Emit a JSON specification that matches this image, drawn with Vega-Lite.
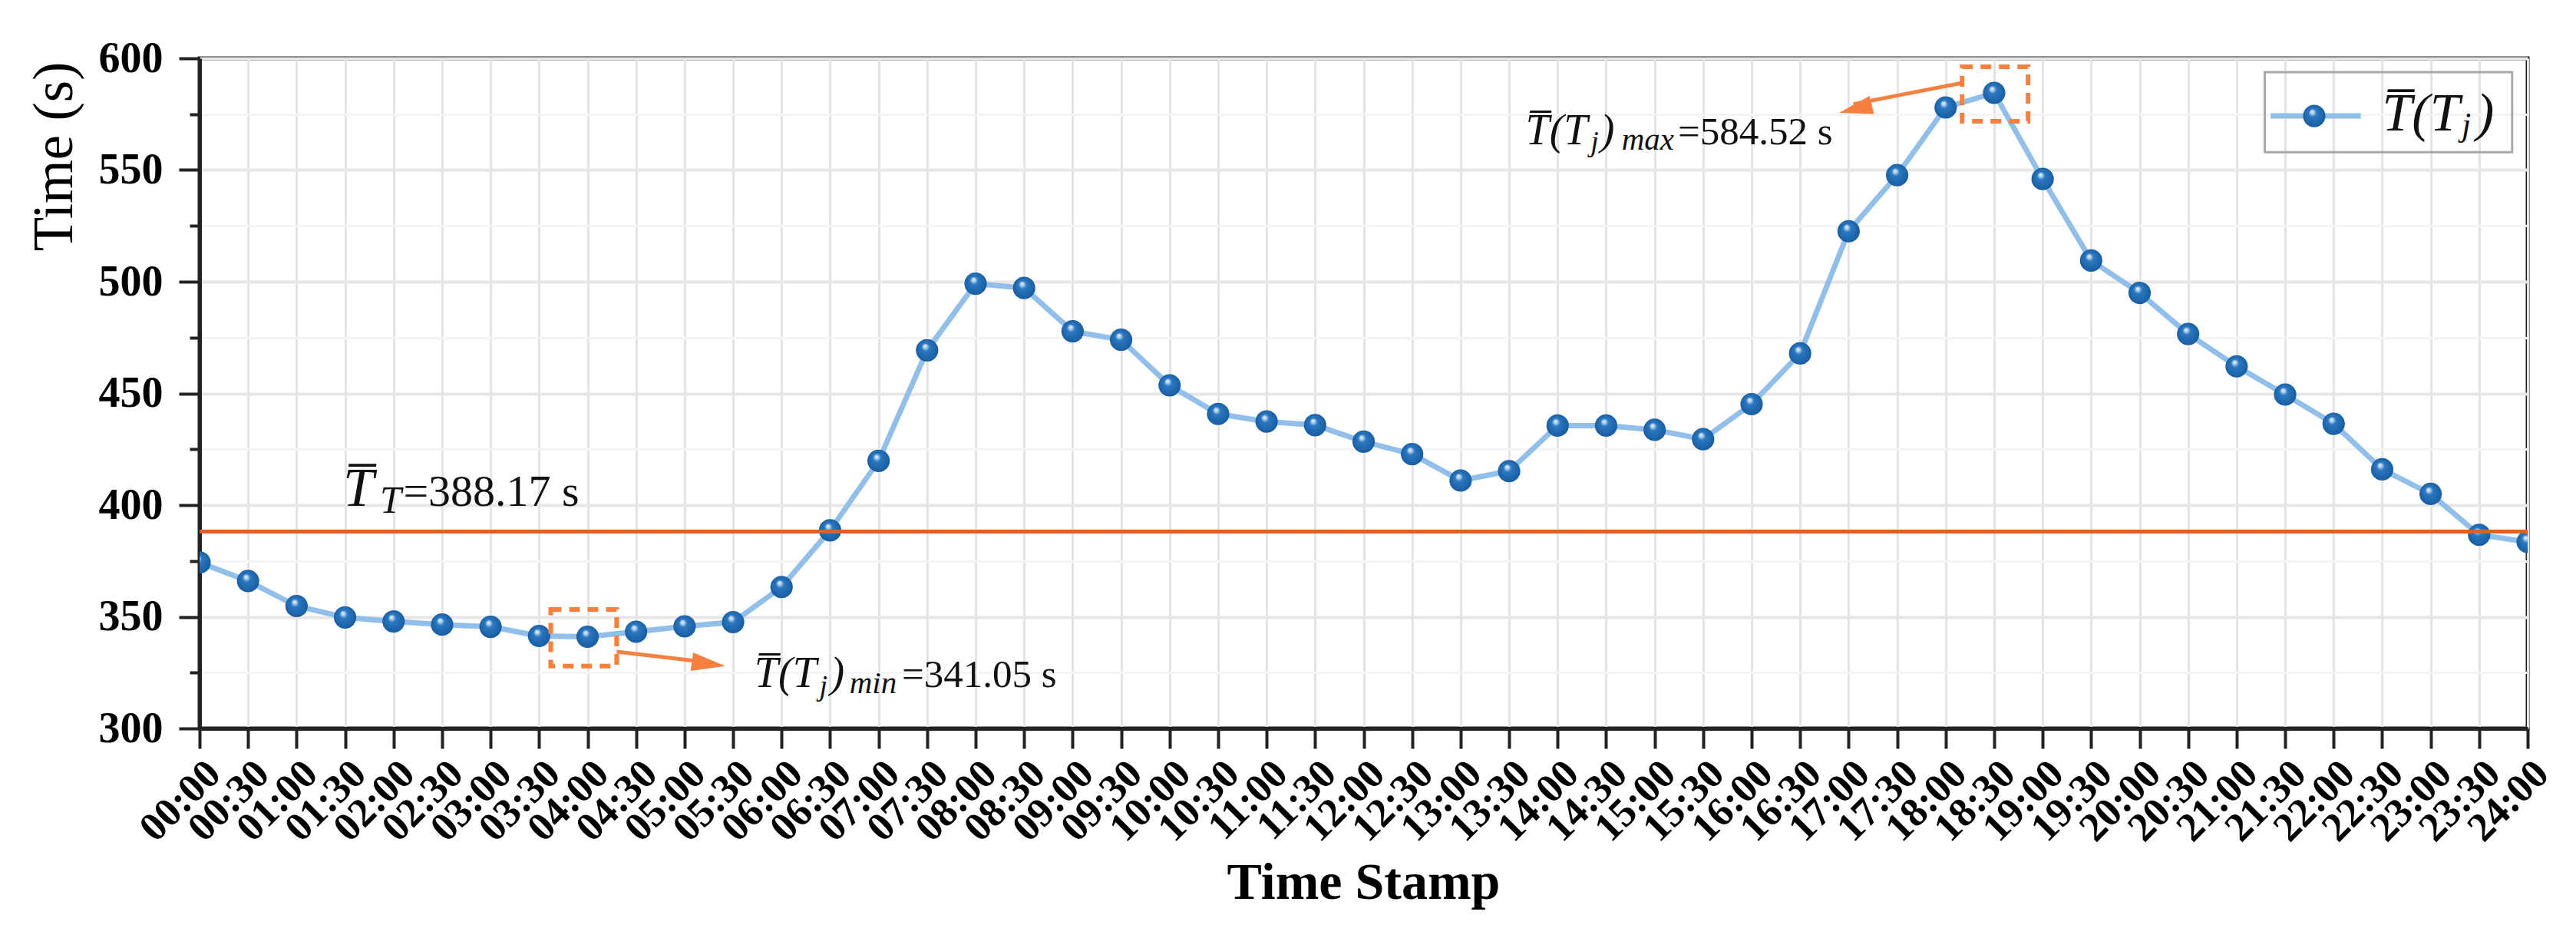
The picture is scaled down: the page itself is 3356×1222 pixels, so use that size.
{
  "$schema": "https://vega.github.io/schema/vega-lite/v6.json",
  "description": "Mean travel time by time stamp",
  "width": 3033,
  "height": 873,
  "autosize": {"type": "none"},
  "padding": {"left": 260, "top": 76, "right": 63, "bottom": 273},
  "background": "white",
  "config": {
    "font": "Liberation Serif",
    "view": {"stroke": "#222222", "strokeWidth": 5}
  },
  "layer": [
    {
      "data": {
        "values": [
          {"hour": 0, "value": 374.3}, {"hour": 0.5, "value": 366}, {"hour": 1, "value": 354.8},
          {"hour": 1.5, "value": 349.7}, {"hour": 2, "value": 347.9}, {"hour": 2.5, "value": 346.5},
          {"hour": 3, "value": 345.5}, {"hour": 3.5, "value": 341.4}, {"hour": 4, "value": 341.05},
          {"hour": 4.5, "value": 343.3}, {"hour": 5, "value": 345.7}, {"hour": 5.5, "value": 347.6},
          {"hour": 6, "value": 363.3}, {"hour": 6.5, "value": 388.7}, {"hour": 7, "value": 419.8},
          {"hour": 7.5, "value": 469.3}, {"hour": 8, "value": 499.1}, {"hour": 8.5, "value": 497.2},
          {"hour": 9, "value": 477.8}, {"hour": 9.5, "value": 474}, {"hour": 10, "value": 453.6},
          {"hour": 10.5, "value": 440.8}, {"hour": 11, "value": 437.4}, {"hour": 11.5, "value": 435.8},
          {"hour": 12, "value": 428.4}, {"hour": 12.5, "value": 422.8}, {"hour": 13, "value": 411},
          {"hour": 13.5, "value": 415.2}, {"hour": 14, "value": 435.6}, {"hour": 14.5, "value": 435.6},
          {"hour": 15, "value": 433.7}, {"hour": 15.5, "value": 429.5}, {"hour": 16, "value": 445.2},
          {"hour": 16.5, "value": 467.9}, {"hour": 17, "value": 522.6}, {"hour": 17.5, "value": 547.7},
          {"hour": 18, "value": 578}, {"hour": 18.5, "value": 584.52}, {"hour": 19, "value": 546},
          {"hour": 19.5, "value": 509.5}, {"hour": 20, "value": 495}, {"hour": 20.5, "value": 476.6},
          {"hour": 21, "value": 462.1}, {"hour": 21.5, "value": 449.5}, {"hour": 22, "value": 436.4},
          {"hour": 22.5, "value": 416}, {"hour": 23, "value": 405}, {"hour": 23.5, "value": 386.7},
          {"hour": 24, "value": 383.5}
        ]
      },
      "encoding": {
        "x": {
          "field": "hour",
          "type": "quantitative",
          "scale": {"domain": [0, 24], "nice": false, "zero": false},
          "axis": {
            "title": "Time Stamp",
            "titleFont": "Liberation Serif",
            "titleFontSize": 68,
            "titleFontWeight": "bold",
            "titleColor": "#000000",
            "titleX": 1516,
            "titleY": 221,
            "titleAlign": "center",
            "titleBaseline": "alphabetic",
            "values": [0, 0.5, 1, 1.5, 2, 2.5, 3, 3.5, 4, 4.5, 5, 5.5, 6, 6.5, 7, 7.5, 8, 8.5, 9, 9.5, 10, 10.5, 11, 11.5, 12, 12.5, 13, 13.5, 14, 14.5, 15, 15.5, 16, 16.5, 17, 17.5, 18, 18.5, 19, 19.5, 20, 20.5, 21, 21.5, 22, 22.5, 23, 23.5, 24],
            "labelExpr": "(datum.value < 10 ? '0' : '') + floor(datum.value) + (datum.value % 1 ? ':30' : ':00')",
            "labelAngle": -45,
            "labelAlign": "right",
            "labelBaseline": "top",
            "labelFontSize": 53,
            "labelFontWeight": "bold",
            "labelColor": "#000000",
            "labelPadding": 6,
            "labelOverlap": false,
            "labelFlush": false,
            "labelBound": false,
            "tickSize": 26,
            "tickWidth": 4,
            "tickColor": "#222222",
            "domainColor": "#222222",
            "domainWidth": 5,
            "grid": true,
            "gridColor": "#e4e4e4",
            "gridWidth": 3
          }
        },
        "y": {
          "field": "value",
          "type": "quantitative",
          "scale": {"domain": [300, 600], "nice": false, "zero": false},
          "axis": {
            "title": "Time (s)",
            "titleFont": "Liberation Serif",
            "titleFontSize": 73,
            "titleFontWeight": "normal",
            "titleColor": "#000000",
            "titleAngle": 270,
            "titleX": -167,
            "titleY": 4,
            "titleAlign": "right",
            "titleBaseline": "alphabetic",
            "values": [300, 325, 350, 375, 400, 425, 450, 475, 500, 525, 550, 575, 600],
            "labelExpr": "datum.value % 50 === 0 ? datum.label : ''",
            "labelFontSize": 56,
            "labelFontWeight": "bold",
            "labelColor": "#000000",
            "labelPadding": 21,
            "labelFlush": false,
            "labelOverlap": false,
            "tickSize": {"condition": {"test": "datum.value % 50 === 0", "value": 27}, "value": 13},
            "tickWidth": 4,
            "tickColor": "#222222",
            "domainColor": "#222222",
            "domainWidth": 5,
            "grid": true,
            "gridColor": {"condition": {"test": "datum.value % 50 === 0", "value": "#e6e6e6"}, "value": "#f4f4f4"},
            "gridWidth": {"condition": {"test": "datum.value % 50 === 0", "value": 4}, "value": 3}
          }
        }
      },
      "layer": [
        {"mark": {"type": "line", "color": "#91bfe9", "strokeWidth": 7, "clip": true}},
        {
          "mark": {
            "type": "point",
            "filled": true,
            "size": 850,
            "opacity": 1,
            "clip": true,
            "fill": {
              "gradient": "radial",
              "x1": 0.4, "y1": 0.3, "r1": 0,
              "x2": 0.5, "y2": 0.5, "r2": 0.55,
              "stops": [
                {"offset": 0, "color": "#eef5fc"},
                {"offset": 0.16, "color": "#a6c9eb"},
                {"offset": 0.32, "color": "#2b78c2"},
                {"offset": 1, "color": "#175a9c"}
              ]
            }
          }
        }
      ]
    },
    {
      "data": {"values": [{"value": 388.17}]},
      "mark": {"type": "rule", "color": "#d9622b", "strokeWidth": 5},
      "encoding": {"y": {"field": "value", "type": "quantitative"}}
    },
    {
      "data": {
        "values": [
          {"hour": 3.62, "hour2": 4.3, "value": 327.9, "value2": 353.3},
          {"hour": 18.17, "hour2": 18.85, "value": 571.8, "value2": 596.2}
        ]
      },
      "mark": {"type": "rect", "fill": null, "stroke": "#f5803f", "strokeWidth": 6, "strokeDash": [14, 10]},
      "encoding": {
        "x": {"field": "hour", "type": "quantitative"},
        "x2": {"field": "hour2"},
        "y": {"field": "value", "type": "quantitative"},
        "y2": {"field": "value2"}
      }
    },
    {
      "data": {
        "values": [
          {"hour": 4.3, "value": 334.4, "hour2": 5.3, "value2": 329.3},
          {"hour": 18.17, "value": 589.0, "hour2": 17.05, "value2": 579.5}
        ]
      },
      "mark": {"type": "rule", "color": "#f5803f", "strokeWidth": 5},
      "encoding": {
        "x": {"field": "hour", "type": "quantitative"},
        "x2": {"field": "hour2"},
        "y": {"field": "value", "type": "quantitative"},
        "y2": {"field": "value2"}
      }
    },
    {
      "data": {"values": [{"hour": 5.42, "value": 327.9}]},
      "mark": {"type": "point", "shape": "M0,0L-2,-0.55L-2,0.55Z", "filled": true, "color": "#f5803f", "opacity": 1, "size": 1936, "angle": 7.7},
      "encoding": {
        "x": {"field": "hour", "type": "quantitative"},
        "y": {"field": "value", "type": "quantitative"}
      }
    },
    {
      "data": {"values": [{"hour": 16.9, "value": 575.6}]},
      "mark": {"type": "point", "shape": "M0,0L-2,-0.55L-2,0.55Z", "filled": true, "color": "#f5803f", "opacity": 1, "size": 1936, "angle": 166.4},
      "encoding": {
        "x": {"field": "hour", "type": "quantitative"},
        "y": {"field": "value", "type": "quantitative"}
      }
    },
    {
      "data": {"values": [{"hour": 21.29, "hour2": 23.84, "value": 558.0, "value2": 593.8}]},
      "mark": {"type": "rect", "fill": null, "stroke": "#a8a8a8", "strokeWidth": 3},
      "encoding": {
        "x": {"field": "hour", "type": "quantitative"},
        "x2": {"field": "hour2"},
        "y": {"field": "value", "type": "quantitative"},
        "y2": {"field": "value2"}
      }
    },
    {
      "data": {"values": [{"hour": 21.35, "hour2": 22.28, "value": 574.2}]},
      "mark": {"type": "rule", "color": "#91bfe9", "strokeWidth": 7},
      "encoding": {
        "x": {"field": "hour", "type": "quantitative"},
        "x2": {"field": "hour2"},
        "y": {"field": "value", "type": "quantitative"}
      }
    },
    {
      "data": {"values": [{"hour": 21.8, "value": 574.2}]},
      "mark": {
        "type": "point",
        "filled": true,
        "size": 850,
        "opacity": 1,
        "fill": {
          "gradient": "radial",
          "x1": 0.4, "y1": 0.3, "r1": 0,
          "x2": 0.5, "y2": 0.5, "r2": 0.55,
          "stops": [
            {"offset": 0, "color": "#eef5fc"},
            {"offset": 0.16, "color": "#a6c9eb"},
            {"offset": 0.32, "color": "#2b78c2"},
            {"offset": 1, "color": "#175a9c"}
          ]
        }
      },
      "encoding": {
        "x": {"field": "hour", "type": "quantitative"},
        "y": {"field": "value", "type": "quantitative"}
      }
    },
    {
      "data": {"values": [{"hour": 1.48, "value": 399.8, "label": "T\u0305"}]},
      "mark": {"type": "text", "font": "Liberation Serif", "fontStyle": "italic", "fontSize": 72, "align": "left", "baseline": "alphabetic", "color": "#111111"},
      "encoding": {
        "x": {"field": "hour", "type": "quantitative"},
        "y": {"field": "value", "type": "quantitative"},
        "text": {"field": "label"}
      }
    },
    {
      "data": {"values": [{"hour": 1.86, "value": 396.4, "label": "T"}]},
      "mark": {"type": "text", "font": "Liberation Serif", "fontStyle": "italic", "fontSize": 50, "align": "left", "baseline": "alphabetic", "color": "#111111"},
      "encoding": {
        "x": {"field": "hour", "type": "quantitative"},
        "y": {"field": "value", "type": "quantitative"},
        "text": {"field": "label"}
      }
    },
    {
      "data": {"values": [{"hour": 2.1, "value": 399.8, "label": "=388.17 s"}]},
      "mark": {"type": "text", "font": "Liberation Serif", "fontSize": 58, "align": "left", "baseline": "alphabetic", "color": "#111111"},
      "encoding": {
        "x": {"field": "hour", "type": "quantitative"},
        "y": {"field": "value", "type": "quantitative"},
        "text": {"field": "label"}
      }
    },
    {
      "data": {
        "values": [
          {"hour": 5.72, "value": 318.6, "label": "T\u0305(T"},
          {"hour": 6.5, "value": 318.6, "label": ")"},
          {"hour": 13.67, "value": 561.5, "label": "T\u0305(T"},
          {"hour": 14.44, "value": 561.5, "label": ")"}
        ]
      },
      "mark": {"type": "text", "font": "Liberation Serif", "fontStyle": "italic", "fontSize": 56, "align": "left", "baseline": "alphabetic", "color": "#111111"},
      "encoding": {
        "x": {"field": "hour", "type": "quantitative"},
        "y": {"field": "value", "type": "quantitative"},
        "text": {"field": "label"}
      }
    },
    {
      "data": {
        "values": [
          {"hour": 6.39, "value": 314.8, "label": "j"},
          {"hour": 14.34, "value": 558.4, "label": "j"}
        ]
      },
      "mark": {"type": "text", "font": "Liberation Serif", "fontStyle": "italic", "fontSize": 38, "align": "left", "baseline": "alphabetic", "color": "#111111"},
      "encoding": {
        "x": {"field": "hour", "type": "quantitative"},
        "y": {"field": "value", "type": "quantitative"},
        "text": {"field": "label"}
      }
    },
    {
      "data": {
        "values": [
          {"hour": 6.7, "value": 315.9, "label": "min"},
          {"hour": 14.66, "value": 559.0, "label": "max"}
        ]
      },
      "mark": {"type": "text", "font": "Liberation Serif", "fontStyle": "italic", "fontSize": 41, "align": "left", "baseline": "alphabetic", "color": "#111111"},
      "encoding": {
        "x": {"field": "hour", "type": "quantitative"},
        "y": {"field": "value", "type": "quantitative"},
        "text": {"field": "label"}
      }
    },
    {
      "data": {
        "values": [
          {"hour": 7.24, "value": 318.6, "label": "=341.05 s"},
          {"hour": 15.24, "value": 561.5, "label": "=584.52 s"}
        ]
      },
      "mark": {"type": "text", "font": "Liberation Serif", "fontSize": 51, "align": "left", "baseline": "alphabetic", "color": "#111111"},
      "encoding": {
        "x": {"field": "hour", "type": "quantitative"},
        "y": {"field": "value", "type": "quantitative"},
        "text": {"field": "label"}
      }
    },
    {
      "data": {
        "values": [
          {"hour": 22.5, "value": 567.7, "label": "T\u0305(T"},
          {"hour": 23.47, "value": 567.7, "label": ")"}
        ]
      },
      "mark": {"type": "text", "font": "Liberation Serif", "fontStyle": "italic", "fontSize": 70, "align": "left", "baseline": "alphabetic", "color": "#111111"},
      "encoding": {
        "x": {"field": "hour", "type": "quantitative"},
        "y": {"field": "value", "type": "quantitative"},
        "text": {"field": "label"}
      }
    },
    {
      "data": {"values": [{"hour": 23.32, "value": 565.3, "label": "j"}]},
      "mark": {"type": "text", "font": "Liberation Serif", "fontStyle": "italic", "fontSize": 44, "align": "left", "baseline": "alphabetic", "color": "#111111"},
      "encoding": {
        "x": {"field": "hour", "type": "quantitative"},
        "y": {"field": "value", "type": "quantitative"},
        "text": {"field": "label"}
      }
    }
  ]
}
